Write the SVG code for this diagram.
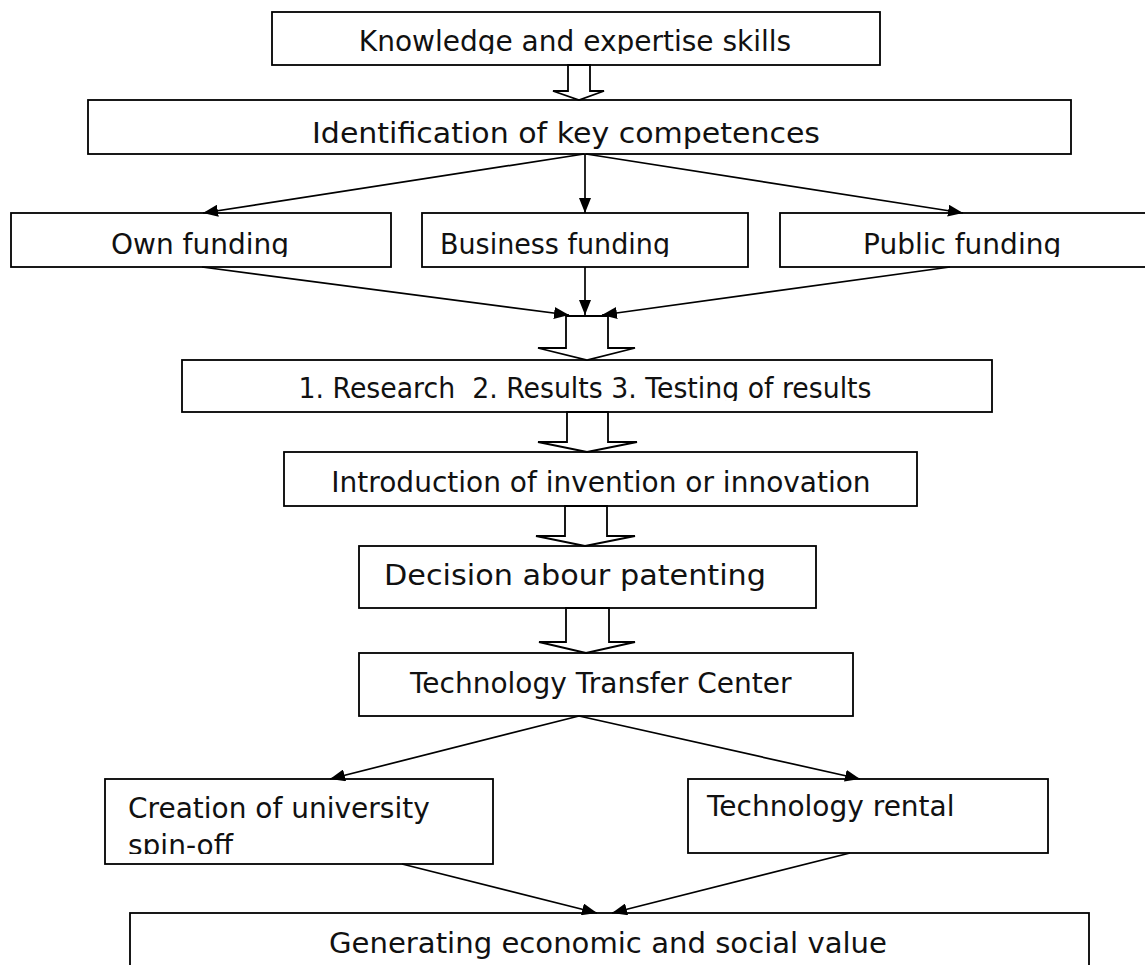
<svg xmlns="http://www.w3.org/2000/svg" width="1145" height="965" viewBox="0 0 1145 965">
<style>
.box{fill:#fff;stroke:#000;stroke-width:1.8}
.t{font-family:"DejaVu Sans",sans-serif;font-size:28px;fill:#111}
.m{text-anchor:middle}
.c{stroke:#000;stroke-width:1.7;fill:none}
.h{fill:#fff;stroke:#000;stroke-width:1.8;stroke-linejoin:miter}
</style>
<defs>
<marker id="ah" markerUnits="userSpaceOnUse" markerWidth="15" markerHeight="12" viewBox="0 0 15 12" refX="15" refY="6" orient="auto">
<path d="M0,0 L15,6 L0,12 z" fill="#000"/>
</marker>
<clipPath id="c1"><rect x="0" y="0" width="1145" height="54"/></clipPath>
<clipPath id="c3"><rect x="0" y="200" width="1145" height="57"/></clipPath>
<clipPath id="c4"><rect x="0" y="360" width="1145" height="41"/></clipPath>
<clipPath id="c9"><rect x="0" y="780" width="1145" height="74"/></clipPath>
</defs>
<g id="n1"><rect class="box" x="272" y="12" width="608" height="53"/><text class="t m" x="575" y="51" clip-path="url(#c1)">Knowledge and expertise skills</text></g>
<g id="n2"><rect class="box" x="88" y="100" width="983" height="54"/><text class="t m" x="566" y="143" textLength="508" lengthAdjust="spacingAndGlyphs">Identification of key competences</text></g>
<g id="n3"><rect class="box" x="11" y="213" width="380" height="54"/><text class="t m" x="200" y="254" clip-path="url(#c3)">Own funding</text></g>
<g id="n4"><rect class="box" x="422" y="213" width="326" height="54"/><text class="t" x="440" y="254" textLength="230" lengthAdjust="spacingAndGlyphs" clip-path="url(#c3)">Business funding</text></g>
<g id="n5"><rect class="box" x="780" y="213" width="380" height="54"/><text class="t" x="863" y="254" clip-path="url(#c3)">Public funding</text></g>
<g id="n6"><rect class="box" x="182" y="360" width="810" height="52"/><text class="t m" x="585" y="398" textLength="573" lengthAdjust="spacingAndGlyphs" xml:space="preserve" clip-path="url(#c4)">1. Research  2. Results 3. Testing of results</text></g>
<g id="n7"><rect class="box" x="284" y="452" width="633" height="54"/><text class="t m" x="601" y="492">Introduction of invention or innovation</text></g>
<g id="n8"><rect class="box" x="359" y="546" width="457" height="62"/><text class="t m" x="575" y="585" textLength="382" lengthAdjust="spacingAndGlyphs">Decision abour patenting</text></g>
<g id="n9"><rect class="box" x="359" y="653" width="494" height="63"/><text class="t" x="410" y="693">Technology Transfer Center</text></g>
<g id="n10"><rect class="box" x="105" y="779" width="388" height="85"/><text class="t" x="128" y="818">Creation of university</text><text class="t" x="128" y="855" clip-path="url(#c9)">spin-off</text></g>
<g id="n11"><rect class="box" x="688" y="779" width="360" height="74"/><text class="t" x="707" y="816">Technology rental</text></g>
<g id="n12"><rect class="box" x="130" y="913" width="959" height="60"/><text class="t m" x="608" y="953" textLength="558" lengthAdjust="spacingAndGlyphs">Generating economic and social value</text></g>
<g id="connectors">
<polygon class="h" points="568,65 590,65 590,91 604,91 579,100 553,91 568,91"/>
<line class="c" x1="584" y1="154" x2="203" y2="213" marker-end="url(#ah)"/>
<line class="c" x1="585" y1="154" x2="585" y2="213" marker-end="url(#ah)"/>
<line class="c" x1="586" y1="154" x2="963" y2="213" marker-end="url(#ah)"/>
<line class="c" x1="202" y1="267" x2="569" y2="315" marker-end="url(#ah)"/>
<line class="c" x1="585" y1="267" x2="585" y2="315" marker-end="url(#ah)"/>
<line class="c" x1="950" y1="267" x2="602" y2="315" marker-end="url(#ah)"/>
<polygon class="h" points="566,316 608,316 608,348 635,348 587,360 538,348 566,348"/>
<polygon class="h" points="567,412 608,412 608,442 637,442 587,452 538,442 567,442"/>
<polygon class="h" points="565,506 607,506 607,536 635,536 585,546 536,536 565,536"/>
<polygon class="h" points="566,608 609,608 609,642 635,642 586,653 539,642 566,642"/>
<line class="c" x1="579" y1="716" x2="330" y2="779" marker-end="url(#ah)"/>
<line class="c" x1="579" y1="716" x2="860" y2="779" marker-end="url(#ah)"/>
<line class="c" x1="402" y1="864" x2="597" y2="913" marker-end="url(#ah)"/>
<line class="c" x1="850" y1="853" x2="612" y2="913" marker-end="url(#ah)"/>
</g>
</svg>
